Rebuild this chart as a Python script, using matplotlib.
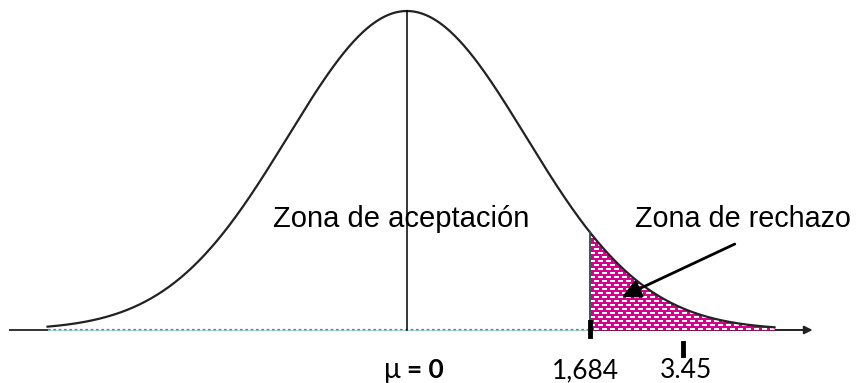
import numpy as np
import matplotlib.pyplot as plt

# parametros de la distribucion (esquema en unidades z)
mu = 0.0
sigma = 1.0
z_lo, z_hi = -3.02, 3.09          # donde se dibuja la campana
z_crit = 1.538                    # posicion de la linea critica
lbl_crit = "1,684"
z_obs = 2.32                      # posicion de la marca 3.45
lbl_obs = "3.45"
lbl_acep = "Zona de aceptación"
lbl_rech = "Zona de rechazo"

magenta = '#D8008E'

def pdf(z):
    return np.exp(-0.5 * ((z - mu) / sigma) ** 2) / (sigma * np.sqrt(2 * np.pi))

fig = plt.figure(figsize=(8.59, 3.83), dpi=100)
ax = fig.add_axes([0, 0, 1, 1])
ax.set_xlim(-3.42, 3.80)
ax.set_ylim(-0.0663, 0.4127)
ax.axis('off')

z = np.linspace(z_lo, z_hi, 600)
ax.plot(z, pdf(z), color='#222222', lw=1.6, zorder=4)

# zona de rechazo sombreada
zr = z[z >= z_crit]
zr = np.concatenate([[z_crit], zr])
poly = ax.fill_between(zr, 0, pdf(zr), color=magenta, lw=0, zorder=2)

# textura de guiones blancos (estilo ladrillo)
x0, x1, y0, y1 = z_crit, z_hi, 0.0, pdf(z_crit) + 0.005
w = int((x1 - x0) * 119 * 2)
h = int((y1 - y0) * 799.7 * 2)
tex = np.ones((h, w, 3))
tex[:] = np.array([0xD8, 0x00, 0x8E]) / 255.0
for r in range(h):
    if r % 8 < 3:
        off = 8 if (r // 8) % 2 else 0
        for c in range(w):
            if (c + off) % 16 < 10:
                tex[r, c] = 1.0
im = ax.imshow(tex, extent=[x0, x1, y0, y1], origin='upper',
               interpolation='nearest', aspect='auto', zorder=3)
im.set_clip_path(poly.get_paths()[0], ax.transData)

# lineas verticales
ax.plot([mu, mu], [0, pdf(mu)], color='black', lw=1.1, zorder=4)
ax.plot([z_crit, z_crit], [0, pdf(z_crit)], color='#2f4f4f', lw=1.3, zorder=4)
ax.plot([z_crit, z_crit], [-0.007, 0.01], color='black', lw=3.5, zorder=5)
ax.plot([z_obs, z_obs], [-0.0163, -0.0313], color='black', lw=3.5, zorder=5)

# eje horizontal
ax.plot([-3.34, z_lo], [0, 0], color='#333333', lw=1.4, zorder=1)
ax.plot([z_lo, z_crit], [0, 0], color='#4f8f8f', lw=1.6, ls=(0, (1.2, 1.2)), zorder=1)
ax.plot([z_lo, z_crit], [0, 0], color='#9fc8c8', lw=0.6, zorder=1)
ax.annotate('', xy=(3.41, 0), xytext=(z_crit, 0),
            arrowprops=dict(arrowstyle='-|>', color='#222222', lw=1.4,
                            mutation_scale=12, shrinkA=0, shrinkB=0), zorder=1)

# textos
ax.text(-1.126, 0.1288, lbl_acep, family='Liberation Sans', fontsize=21,
        ha='left', va='baseline')
ax.text(1.916, 0.1288, lbl_rech, family='Liberation Sans', fontsize=20.7,
        ha='left', va='baseline')
ax.annotate('', xy=(1.807, 0.0413), xytext=(2.756, 0.1075),
            arrowprops=dict(arrowstyle='-|>', color='black', lw=2,
                            mutation_scale=28, shrinkA=0, shrinkB=0), zorder=6)

ax.text(mu - 0.05, -0.060, "μ", family='Lato', fontsize=20, ha='right', va='baseline')
ax.text(mu + 0.0, -0.060, "= 0", family='Lato', fontsize=19, fontweight='bold',
        ha='left', va='baseline')
ax.text(z_crit - 0.04, -0.060, lbl_crit, family='Lato', fontsize=19,
        ha='center', va='baseline')
ax.text(z_obs + 0.03, -0.060, lbl_obs, family='Lato', fontsize=19,
        ha='center', va='baseline')

fig.savefig('out.png', dpi=100)
